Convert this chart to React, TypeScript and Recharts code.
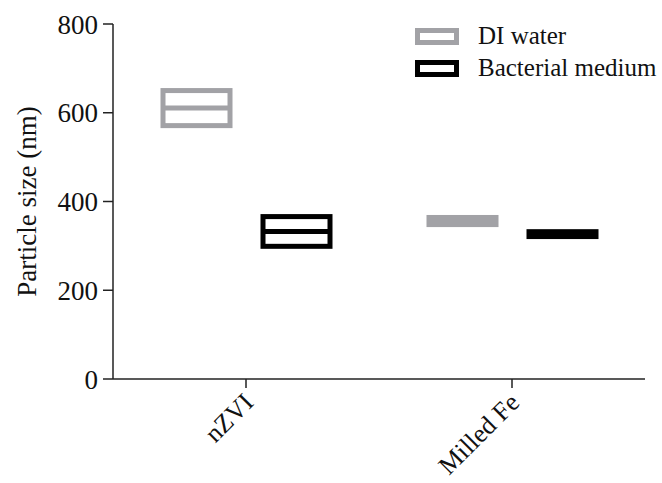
// Particle size of nZVI and milled Fe in DI water vs bacterial medium,
// drawn as floating min–max boxes with a line at the mean.

import { Bar, BarChart, XAxis, YAxis } from "recharts";

const categories = ["nZVI", "Milled Fe"];
const diLow = [571, 348];
const diMean = [616, 356];
const diHigh = [650, 364];
const bacLow = [299, 321];
const bacMean = [336, 327];
const bacHigh = [366, 332];
const yTicks = [0, 200, 400, 600, 800];
const seriesNames = ["DI water", "Bacterial medium"];

const GRAY = "#a2a2a6";
const INK = "#000000";
const FONT = "Liberation Serif, Times New Roman, serif";

const rows = categories.map((name, i) => ({
  name,
  di: [diLow[i], diHigh[i]],
  diMean: diMean[i],
  bac: [bacLow[i], bacHigh[i]],
  bacMean: bacMean[i],
}));

function boxShape(color: string, meanKey: "diMean" | "bacMean") {
  return (props: any) => {
    const { x, y, width, height, payload, value } = props;
    const top = Math.min(y, y + height);
    const h = Math.abs(height);
    const [lo, hi] = Array.isArray(value) ? value : [0, 0];
    const my = hi === lo ? top + h / 2 : top + ((hi - payload[meanKey]) / (hi - lo)) * h;
    return (
      <g>
        <rect x={x} y={top} width={width} height={h} fill="none" stroke={color} strokeWidth={5} />
        <line x1={x} x2={x + width} y1={my} y2={my} stroke={color} strokeWidth={5} />
      </g>
    );
  };
}

function CatTick({ x, y, payload }: any) {
  return (
    <text x={x + 9} y={y + 14} transform={`rotate(-45 ${x + 9} ${y + 14})`} textAnchor="end"
          style={{ fontFamily: FONT, fontSize: 26 }} fill="#111">
      {payload.value}
    </text>
  );
}

function YTitle({ viewBox }: any) {
  const cy = viewBox.y + viewBox.height / 2;
  return (
    <text x={36} y={cy} transform={`rotate(-90 36 ${cy})`} textAnchor="middle"
          style={{ fontFamily: FONT, fontSize: 27 }} fill="#111">
      Particle size (nm)
    </text>
  );
}

export default function App() {
  const colors = [GRAY, INK];
  return (
    <div style={{ position: "absolute", left: 0, top: 0, width: 662, height: 483, background: "#fff" }}>
      <BarChart width={662} height={483} data={rows} barSize={67} barGap={33}
                margin={{ top: 24, right: 17, bottom: 0, left: 0 }}>
        <XAxis dataKey="name" height={104} tick={<CatTick />} tickSize={9}
               axisLine={{ stroke: "#222", strokeWidth: 1.5 }} tickLine={{ stroke: "#222", strokeWidth: 1.5 }} />
        <YAxis domain={[0, 800]} ticks={yTicks} width={113} tickSize={10} tickMargin={5} interval={0}
               tick={{ fill: "#111", fontSize: 27, style: { fontFamily: FONT } }}
               axisLine={{ stroke: "#222", strokeWidth: 1.5 }} tickLine={{ stroke: "#222", strokeWidth: 1.5 }}
               label={<YTitle />} />
        <Bar dataKey="di" name={seriesNames[0]} shape={boxShape(GRAY, "diMean")} isAnimationActive={false} />
        <Bar dataKey="bac" name={seriesNames[1]} shape={boxShape(INK, "bacMean")} isAnimationActive={false} />
      </BarChart>
      <div style={{ position: "absolute", left: 415, top: 20, fontFamily: FONT, fontSize: 25, color: "#111" }}>
        {seriesNames.map((label, i) => (
          <div key={label} style={{ display: "flex", alignItems: "center", height: 32 }}>
            <svg width={44} height={17} style={{ marginRight: 19 }}>
              <rect x={2.5} y={2.5} width={39} height={12} fill="none" stroke={colors[i]} strokeWidth={5} />
            </svg>
            <span>{label}</span>
          </div>
        ))}
      </div>
    </div>
  );
}
